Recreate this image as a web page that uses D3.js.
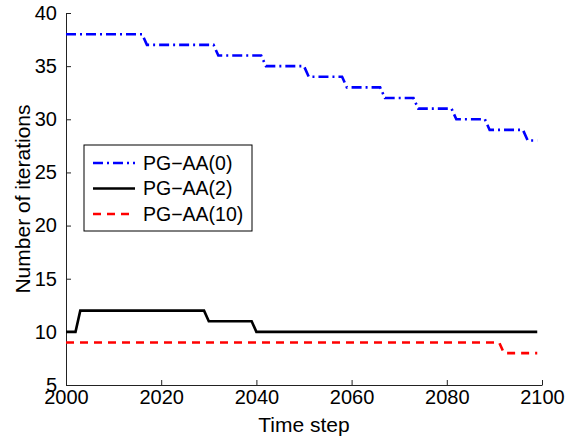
<!DOCTYPE html>
<html>
<head>
<meta charset="utf-8">
<script src="https://cdn.jsdelivr.net/npm/d3@7"></script>
<style>
  body { margin: 0; background: #fff; }
  svg text { font-family: "Liberation Sans", Arial, sans-serif; }
</style>
</head>
<body>
<svg id="chart"></svg>
<script>
// time steps on the x axis
const timeSteps = [
  2000, 2001, 2002, 2003, 2004, 2005, 2006, 2007, 2008, 2009,
  2010, 2011, 2012, 2013, 2014, 2015, 2016, 2017, 2018, 2019,
  2020, 2021, 2022, 2023, 2024, 2025, 2026, 2027, 2028, 2029,
  2030, 2031, 2032, 2033, 2034, 2035, 2036, 2037, 2038, 2039,
  2040, 2041, 2042, 2043, 2044, 2045, 2046, 2047, 2048, 2049,
  2050, 2051, 2052, 2053, 2054, 2055, 2056, 2057, 2058, 2059,
  2060, 2061, 2062, 2063, 2064, 2065, 2066, 2067, 2068, 2069,
  2070, 2071, 2072, 2073, 2074, 2075, 2076, 2077, 2078, 2079,
  2080, 2081, 2082, 2083, 2084, 2085, 2086, 2087, 2088, 2089,
  2090, 2091, 2092, 2093, 2094, 2095, 2096, 2097, 2098, 2099
];

// PG-AA(0)
const pgAA0 = [
  38, 38, 38, 38, 38, 38, 38, 38, 38, 38,
  38, 38, 38, 38, 38, 38, 38, 37, 37, 37,
  37, 37, 37, 37, 37, 37, 37, 37, 37, 37,
  37, 37, 36, 36, 36, 36, 36, 36, 36, 36,
  36, 36, 35, 35, 35, 35, 35, 35, 35, 35,
  35, 34, 34, 34, 34, 34, 34, 34, 34, 33,
  33, 33, 33, 33, 33, 33, 33, 32, 32, 32,
  32, 32, 32, 32, 31, 31, 31, 31, 31, 31,
  31, 31, 30, 30, 30, 30, 30, 30, 30, 29,
  29, 29, 29, 29, 29, 29, 29, 28, 28, 28
];

// PG-AA(2)
const pgAA2 = [
  10, 10, 10, 12, 12, 12, 12, 12, 12, 12,
  12, 12, 12, 12, 12, 12, 12, 12, 12, 12,
  12, 12, 12, 12, 12, 12, 12, 12, 12, 12,
  11, 11, 11, 11, 11, 11, 11, 11, 11, 11,
  10, 10, 10, 10, 10, 10, 10, 10, 10, 10,
  10, 10, 10, 10, 10, 10, 10, 10, 10, 10,
  10, 10, 10, 10, 10, 10, 10, 10, 10, 10,
  10, 10, 10, 10, 10, 10, 10, 10, 10, 10,
  10, 10, 10, 10, 10, 10, 10, 10, 10, 10,
  10, 10, 10, 10, 10, 10, 10, 10, 10, 10
];

// PG-AA(10)
const pgAA10 = [
  9, 9, 9, 9, 9, 9, 9, 9, 9, 9,
  9, 9, 9, 9, 9, 9, 9, 9, 9, 9,
  9, 9, 9, 9, 9, 9, 9, 9, 9, 9,
  9, 9, 9, 9, 9, 9, 9, 9, 9, 9,
  9, 9, 9, 9, 9, 9, 9, 9, 9, 9,
  9, 9, 9, 9, 9, 9, 9, 9, 9, 9,
  9, 9, 9, 9, 9, 9, 9, 9, 9, 9,
  9, 9, 9, 9, 9, 9, 9, 9, 9, 9,
  9, 9, 9, 9, 9, 9, 9, 9, 9, 9,
  9, 9, 8, 8, 8, 8, 8, 8, 8, 8
];

const seriesNames = ["PG\u2212AA(0)", "PG\u2212AA(2)", "PG\u2212AA(10)"];
const xTicks = [2000, 2020, 2040, 2060, 2080, 2100];
const yTicks = [5, 10, 15, 20, 25, 30, 35, 40];

// set the dimensions and margins of the graph
var margin = { top: 13, right: 25, bottom: 53, left: 66 },
  width = 567 - margin.left - margin.right,
  height = 438 - margin.top - margin.bottom;

var svgRoot = d3.select("#chart")
  .attr("width", 567)
  .attr("height", 438);
var svg = svgRoot.append("g")
  .attr("transform", "translate(" + margin.left + "," + margin.top + ")");

const x = d3.scaleLinear().domain([2000, 2100]).range([0, width]);
const y = d3.scaleLinear().domain([5, 40]).range([height, 0]);

// axes with inward ticks
svg.append("g")
  .attr("transform", `translate(0, ${height})`)
  .call(d3.axisBottom(x).tickValues(xTicks).tickFormat(d3.format("d"))
    .tickSizeInner(-5).tickSizeOuter(0).tickPadding(5))
  .call(g => g.selectAll("text").style("font-size", "20px").attr("fill", "#000"))
  .call(g => g.selectAll("line, path").attr("stroke", "#222"));

svg.append("g")
  .call(d3.axisLeft(y).tickValues(yTicks)
    .tickSizeInner(-5).tickSizeOuter(0).tickPadding(9))
  .call(g => g.selectAll("text").style("font-size", "20px").attr("fill", "#000"))
  .call(g => g.selectAll("line, path").attr("stroke", "#222"));

// axis labels
svg.append("text")
  .attr("x", width / 2)
  .attr("y", height + 47)
  .style("text-anchor", "middle")
  .style("font-size", "21px")
  .text("Time step");

svg.append("text")
  .attr("transform", "rotate(-90)")
  .attr("x", -height / 2)
  .attr("y", -36)
  .style("text-anchor", "middle")
  .style("font-size", "21px")
  .text("Number of iterations");

// series
const series = [
  { name: seriesNames[0], values: pgAA0, color: "#0000ff", dash: "10,4,2,4" },
  { name: seriesNames[1], values: pgAA2, color: "#000000", dash: null },
  { name: seriesNames[2], values: pgAA10, color: "#ff0000", dash: "8,6" }
];

const line = d3.line()
  .x(function (d, i) { return x(timeSteps[i]); })
  .y(function (d) { return y(d); });

svg.selectAll("series")
  .data(series)
  .join("path")
  .attr("fill", "none")
  .attr("stroke", d => d.color)
  .attr("stroke-width", 2.6)
  .attr("stroke-dasharray", d => d.dash)
  .attr("d", d => line(d.values));

// legend
const legend = svgRoot.append("g").attr("transform", "translate(84,145)");
legend.append("rect")
  .attr("width", 168)
  .attr("height", 86)
  .attr("fill", "#fff")
  .attr("stroke", "#000")
  .attr("stroke-width", 1);

const rowH = 25.5;
legend.selectAll("legline")
  .data(series)
  .join("line")
  .attr("x1", 9).attr("x2", 51)
  .attr("y1", (d, i) => 18 + i * rowH)
  .attr("y2", (d, i) => 18 + i * rowH)
  .attr("stroke", d => d.color)
  .attr("stroke-width", 2.6)
  .attr("stroke-dasharray", d => d.dash);

legend.selectAll("leglabel")
  .data(series)
  .join("text")
  .attr("x", 59)
  .attr("y", (d, i) => 18 + i * rowH)
  .attr("dy", "0.35em")
  .style("font-size", "19.5px")
  .text(d => d.name);
</script>
</body>
</html>
